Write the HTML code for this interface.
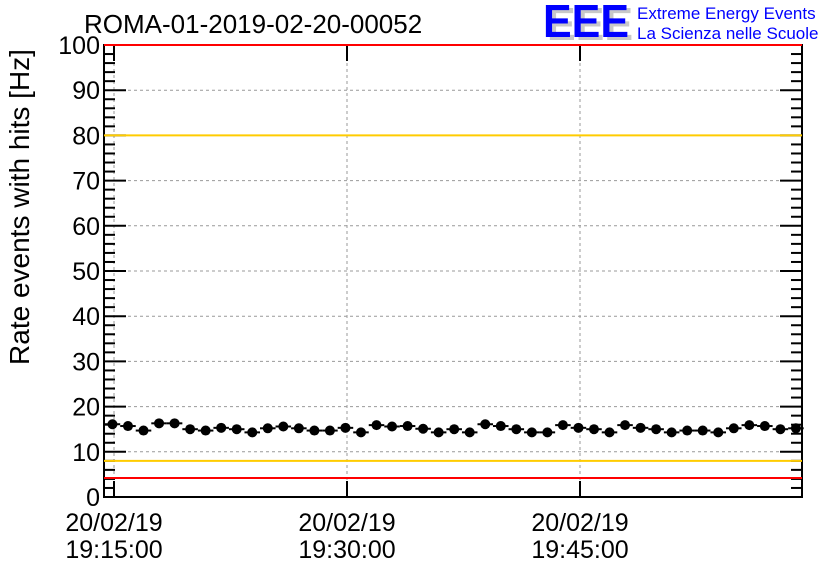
<!DOCTYPE html>
<html><head><meta charset="utf-8"><style>
body{margin:0;background:#fff}
svg text{font-family:"Liberation Sans",sans-serif}
</style></head><body>
<svg width="836" height="572" viewBox="0 0 836 572" id="chart">
<rect width="836" height="572" fill="#fff"/>
<text x="84" y="33" font-size="26">ROMA-01-2019-02-20-00052</text>
<g>
<text x="547" y="40" font-size="46" font-weight="bold" fill="#c8c8c8" textLength="86" lengthAdjust="spacingAndGlyphs">EEE</text>
<text x="543" y="37" font-size="46" font-weight="bold" fill="#0000ff" textLength="86" lengthAdjust="spacingAndGlyphs">EEE</text>
<text x="637" y="19" font-size="17" fill="#0000ff">Extreme Energy Events</text>
<text x="637" y="39" font-size="17" fill="#0000ff">La Scienza nelle Scuole</text>
</g>
<text transform="translate(29,207) rotate(-90)" font-size="28" text-anchor="middle">Rate events with hits [Hz]</text>
<g id="grid"></g><g id="axes"></g><g id="marks"></g>
</svg>
<script>
const yTicks=[0,10,20,30,40,50,60,70,80,90,100];
const xTickMinutes=[0,15,30];
const xTickDates=["20/02/19","20/02/19","20/02/19"];
const xTickTimes=["19:15:00","19:30:00","19:45:00"];
const redLimits=[100,4.2];
const yellowLimits=[80,8];
const startMinute=-0.1;
const rates=[16.1,15.7,14.7,16.3,16.3,15.0,14.7,15.3,15.0,14.3,15.2,15.6,15.2,14.7,14.7,15.3,14.3,15.9,15.6,15.7,15.1,14.3,15.0,
14.3,16.1,15.7,15.0,14.3,14.3,15.9,15.3,15.0,14.3,15.9,15.3,15.0,14.3,14.7,14.7,14.3,15.2,15.9,15.7,15.0,15.2];
const L=104,R=802,T=45,B=497;
const X=m=>114+m*(580-114)/30;
const Y=v=>B-(v/100)*(B-T);
const NS="http://www.w3.org/2000/svg";
function mk(p,tag,a){const e=document.createElementNS(NS,tag);for(const k in a)e.setAttribute(k,a[k]);p.appendChild(e);return e;}
const grid=document.getElementById('grid'),axes=document.getElementById('axes'),marks=document.getElementById('marks');
yTicks.forEach(v=>{
 if(v>0&&v<100){const g=mk(grid,'line',{x1:L,x2:R,y1:Y(v),y2:Y(v),stroke:'#999','stroke-dasharray':'3,3'});
 
 }
 const t=mk(axes,'text',{x:100,y:Y(v)+9,'font-size':25,'text-anchor':'end'});t.textContent=v;
 
 
 mk(axes,'line',{x1:L,x2:L+22,y1:Y(v),y2:Y(v),stroke:'#000','stroke-width':2});
 mk(axes,'line',{x1:R,x2:R-22,y1:Y(v),y2:Y(v),stroke:'#000','stroke-width':2});
});
for(let v=2;v<100;v+=2){if(v%10==0)continue;
 mk(axes,'line',{x1:L,x2:L+11,y1:Y(v),y2:Y(v),stroke:'#000','stroke-width':2});
 mk(axes,'line',{x1:R,x2:R-11,y1:Y(v),y2:Y(v),stroke:'#000','stroke-width':2});}
xTickMinutes.forEach((m,i)=>{
 const x=X(m);
 const g=mk(grid,'line',{x1:x,x2:x,y1:T,y2:B,stroke:'#999','stroke-dasharray':'3,3'});
 
 
 mk(axes,'line',{x1:x,x2:x,y1:B,y2:B-16,stroke:'#000','stroke-width':2});
 mk(axes,'line',{x1:x,x2:x,y1:T,y2:T+16,stroke:'#000','stroke-width':2});
 const t1=mk(axes,'text',{x:x,y:531,'font-size':25,'text-anchor':'middle'});t1.textContent=xTickDates[i];
 
 
 const t2=mk(axes,'text',{x:x,y:558,'font-size':25,'text-anchor':'middle'});t2.textContent=xTickTimes[i];
 
 
});
redLimits.forEach(v=>{const l=mk(marks,'line',{x1:L,x2:R,y1:Y(v),y2:Y(v),stroke:'#f00','stroke-width':2});
 
 });
yellowLimits.forEach(v=>{const l=mk(marks,'line',{x1:L,x2:R,y1:Y(v),y2:Y(v),stroke:'#fc0','stroke-width':2});
 
 });
const ax=mk(axes,'rect',{x:L,y:T,width:R-L,height:B-T,fill:'none',stroke:'#000','stroke-width':2});


const hw=(X(1)-X(0))/2;
rates.forEach((v,i)=>{
 const x=X(startMinute+i),y=Y(v);
 const b=mk(marks,'line',{x1:x-hw,x2:x+hw,y1:y,y2:y,stroke:'#000','stroke-width':2});
 
 
 const c=mk(marks,'circle',{cx:x,cy:y,r:5,fill:'#000'});
 
 
});
</script>
</body></html>
